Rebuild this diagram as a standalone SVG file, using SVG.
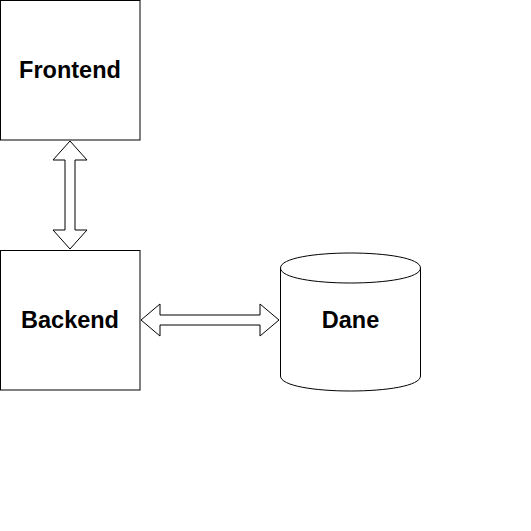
<svg xmlns="http://www.w3.org/2000/svg" width="531" height="531" viewBox="0 0 531 531">
<style>
.box{fill:#fff;stroke:#000;stroke-width:1}
.lbl{font-family:"Liberation Sans",Arial,Helvetica,sans-serif;font-weight:bold;font-size:23.5px;text-anchor:middle;fill:#000}
.arr{fill:#fff;stroke:#000;stroke-width:1;stroke-linejoin:miter}
</style>
<rect width="531" height="531" fill="#fff"/>
<g id="connectors">
<path class="arr" d="M70,141 L87,160 L75,160 L75,230 L87,230 L70,249 L53,230 L65,230 L65,160 L53,160 Z"/>
<path class="arr" d="M141,320 L160,304 L160,315 L260,315 L260,304 L279,320 L260,336 L260,325 L160,325 L160,336 Z"/>
</g>
<g id="frontend">
<rect class="box" x="0.5" y="0.5" width="139.5" height="139.5"/>
<text class="lbl" x="70" y="78">Frontend</text>
</g>
<g id="backend">
<rect class="box" x="0.5" y="250.5" width="139.5" height="139.5"/>
<text class="lbl" x="70" y="328">Backend</text>
</g>
<g id="dane">
<path class="box" d="M280.5,268 C280.5,248 420.5,248 420.5,268 L420.5,376 C420.5,396 280.5,396 280.5,376 Z"/>
<path class="box" fill="none" d="M280.5,268 C280.5,288 420.5,288 420.5,268"/>
<text class="lbl" x="350.5" y="328">Dane</text>
</g>
</svg>
